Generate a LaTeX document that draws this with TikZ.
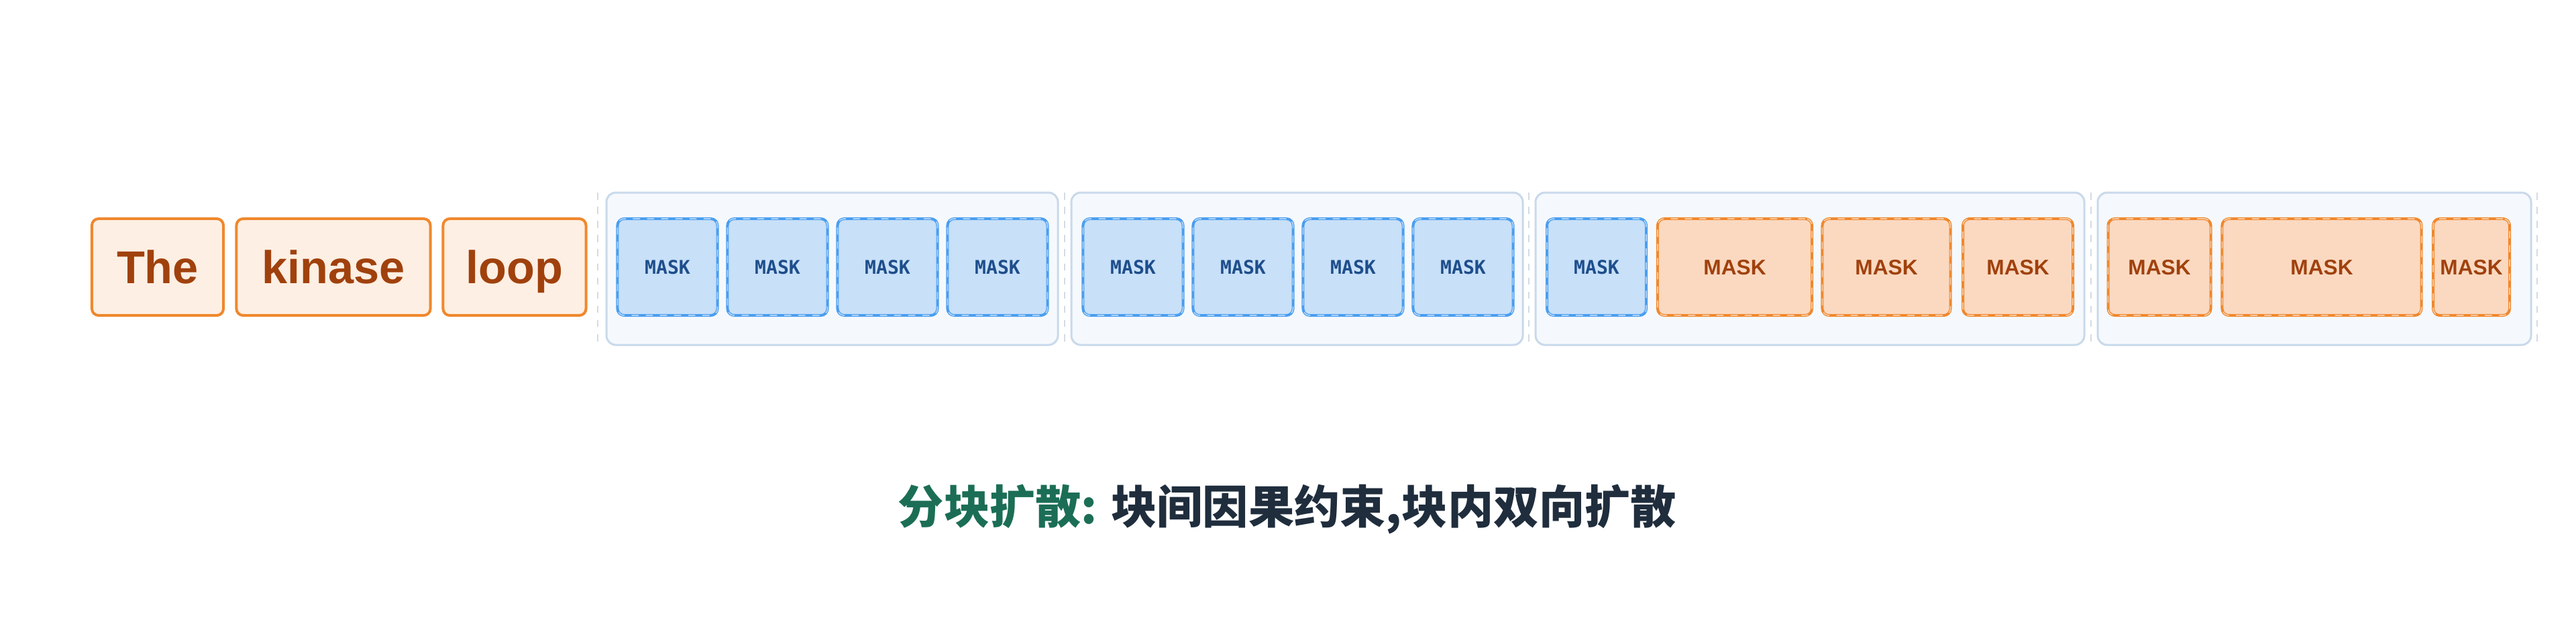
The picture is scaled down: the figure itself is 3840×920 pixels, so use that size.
\documentclass[tikz,border=0pt]{standalone}
\usepackage{fontspec}
\setmainfont{Liberation Sans}
\newfontfamily\cjk{Noto Sans CJK SC}
\newfontfamily\maskmono{DejaVu Sans Mono}
\usetikzlibrary{positioning}
\definecolor{TokFill}{HTML}{FDEFE3}
\definecolor{TokLine}{HTML}{F0882D}
\definecolor{TokText}{HTML}{A0410D}
\definecolor{BlueFill}{HTML}{C8E0F8}
\definecolor{BlueLine}{HTML}{4A9EEF}
\definecolor{BlueText}{HTML}{1E4E8C}
\definecolor{OrFill}{HTML}{FBD9C1}
\definecolor{BlockFill}{HTML}{F5F9FD}
\definecolor{BlockLine}{HTML}{C9D9EA}
\definecolor{SepLine}{HTML}{D3DBE3}
\definecolor{CapGreen}{HTML}{1B6E55}
\definecolor{CapDark}{HTML}{1F2D3D}
\tikzset{
  tokbox/.style={rectangle, rounded corners=10pt*0.2845, draw=TokLine, fill=TokFill, line width=4pt*0.2845, minimum height=144pt*0.2845, inner sep=0pt, text height=13.8pt, text depth=0pt, text=TokText, font=\bfseries\fontsize{19.5}{19.5}\selectfont},
  bluemask/.style={rectangle, rounded corners=10pt*0.2845, draw=BlueLine, fill=BlueFill, line width=4pt*0.2845, minimum height=144pt*0.2845, inner sep=0pt, text height=5.9pt, text depth=0pt, text=BlueText, font=\maskmono\bfseries\fontsize{8}{8}\selectfont, postaction={draw=BlueLine!45!white, dashed, line width=0.5pt}},
  ormask/.style={rectangle, rounded corners=10pt*0.2845, draw=TokLine, fill=OrFill, line width=4pt*0.2845, minimum height=144pt*0.2845, inner sep=0pt, text height=6.4pt, text depth=0pt, text=TokText, font=\bfseries\fontsize{9}{9}\selectfont, postaction={draw=TokLine!45!white, dashed, line width=0.5pt}},
  blockbox/.style={draw=BlockLine, fill=BlockFill, line width=3pt*0.2845, rounded corners=14pt*0.2845},
  sepline/.style={draw=SepLine, dashed, line width=2pt*0.2845}
}
\begin{document}
\begin{tikzpicture}[x=0.01cm, y=-0.01cm]
  \useasboundingbox[fill=white] (0,0) rectangle (3840,920);
  % prompt tokens
  \node[tokbox, minimum width=196pt*0.2845] (the) at (235,398) {The};
  \node[tokbox, minimum width=289pt*0.2845] (kinase) at (497,398) {kinase};
  \node[tokbox, minimum width=213pt*0.2845] (loop) at (767,398) {loop};

  % blocks
  \draw[blockbox] (904,287) rectangle (1577,514);
  \draw[blockbox] (1597,287) rectangle (2270,514);
  \draw[blockbox] (2289,287) rectangle (3107,514);
  \draw[blockbox] (3127,287) rectangle (3773,514);
  \foreach \sx in {891,1587,2279,3117,3782}
    \draw[sepline] (\sx,287) -- (\sx,514);

  % masks
  \foreach \cx/\w [count=\i] in {995/149,1159/149,1323/149,1487/149,1689/149,1853/149,2017/149,2181/149,2380/148}
    \node[bluemask, minimum width=\w pt*0.2845] (m\i) at (\cx,398) {MASK};
  \foreach \cx/\w [count=\i from 10] in {2586/230,2812/191,3008/164,3219/153,3461/297,3684/114}
    \node[ormask, minimum width=\w pt*0.2845] (m\i) at (\cx,398) {MASK};

  % caption
  \node[font=\cjk\bfseries\fontsize{19.4}{19.4}\selectfont, text=CapDark] (caption) at (1919,759) {\textcolor{CapGreen}{分块扩散:} 块间因果约束,块内双向扩散};
\end{tikzpicture}
\end{document}
